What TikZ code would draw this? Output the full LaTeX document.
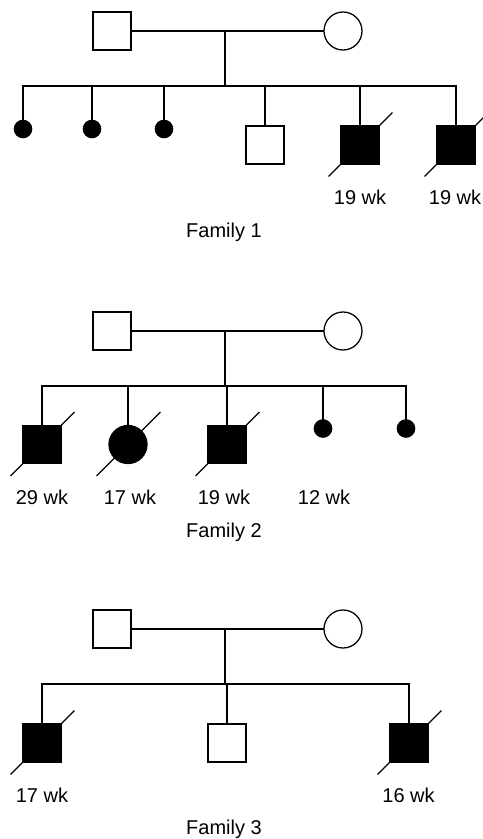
\documentclass[tikz,border=0pt]{standalone}
\usepackage{fontspec}
\setmainfont{Liberation Sans}
\newcommand\deadmark[1]{\draw ([shift={(-31,31)}]#1.center)--([shift={(32,-32)}]#1.center);}
\begin{document}
\begin{tikzpicture}[x=.75pt, y=-.75pt, line width=.95pt, line cap=rect,
    male/.style={draw, rectangle, minimum size=28.5pt, inner sep=0pt},
    female/.style={draw, circle, minimum size=28.5pt, inner sep=0pt},
    loss/.style={draw, circle, fill, minimum size=13pt, inner sep=0pt},
    lbl/.style={anchor=base, inner sep=0pt, font=\fontsize{15}{18}\selectfont}]
\useasboundingbox (0,0) rectangle (482,839);

% Family 1
\node[male] (f1) at (112,31) {};
\node[female] (m1) at (343,31) {};
\draw (f1)--(m1);
\coordinate (u1) at (225,31);
\coordinate (s1) at (225,86);
\coordinate (l1) at (23,86);
\coordinate (r1) at (456,86);
\draw (u1)--(s1);
\draw (l1)--(r1);
\foreach \x [count=\i] in {23,92,164}
{
    \node[loss] (d1\i) at (\x,129) {};
    \draw (d1\i |- s1)--(d1\i);
}
\node[male] (c14) at (265,145) {};
\node[male, fill] (c15) at (360,145) {};
\node[male, fill] (c16) at (456,145) {};
\foreach \c in {c14,c15,c16}
{
    \draw (\c |- s1)--(\c);
}
\deadmark{c15} \deadmark{c16}
\node[lbl] (a15) at (360,204) {19 wk};
\node[lbl] (a16) at (455,204) {19 wk};
\node[lbl] (fam1) at (224,237) {Family 1};

% Family 2
\node[male] (f2) at (112,331) {};
\node[female] (m2) at (343,331) {};
\draw (f2)--(m2);
\coordinate (u2) at (225,331);
\coordinate (s2) at (225,386);
\coordinate (l2) at (42,386);
\coordinate (r2) at (406,386);
\draw (u2)--(s2);
\draw (l2)--(r2);
\node[male, fill] (c21) at (42,444.5) {};
\node[female, fill] (c22) at (128,444.5) {};
\node[male, fill] (c23) at (227,444.5) {};
\node[loss] (c24) at (323,428.5) {};
\node[loss] (c25) at (406,428.5) {};
\foreach \c in {c21,c22,c23,c24,c25}
{
    \draw (\c |- s2)--(\c);
}
\deadmark{c21} \deadmark{c22} \deadmark{c23}
\foreach \x/\t [count=\i] in {42/29,130/17,224/19,324/12}
{
    \node[lbl] (a2\i) at (\x,504) {\t\ wk};
}
\node[lbl] (fam2) at (224,537) {Family 2};

% Family 3
\node[male] (f3) at (112,629) {};
\node[female] (m3) at (343,629) {};
\draw (f3)--(m3);
\coordinate (u3) at (225,629);
\coordinate (s3) at (225,684);
\coordinate (l3) at (42,684);
\coordinate (r3) at (409,684);
\draw (u3)--(s3);
\draw (l3)--(r3);
\node[male, fill] (c31) at (42,743) {};
\node[male] (c32) at (227,743) {};
\node[male, fill] (c33) at (409,743) {};
\foreach \c in {c31,c32,c33}
{
    \draw (\c |- s3)--(\c);
}
\deadmark{c31} \deadmark{c33}
\node[lbl] (a31) at (42,802) {17 wk};
\node[lbl] (a33) at (408.5,802) {16 wk};
\node[lbl] (fam3) at (224,834) {Family 3};
\end{tikzpicture}
\end{document}
